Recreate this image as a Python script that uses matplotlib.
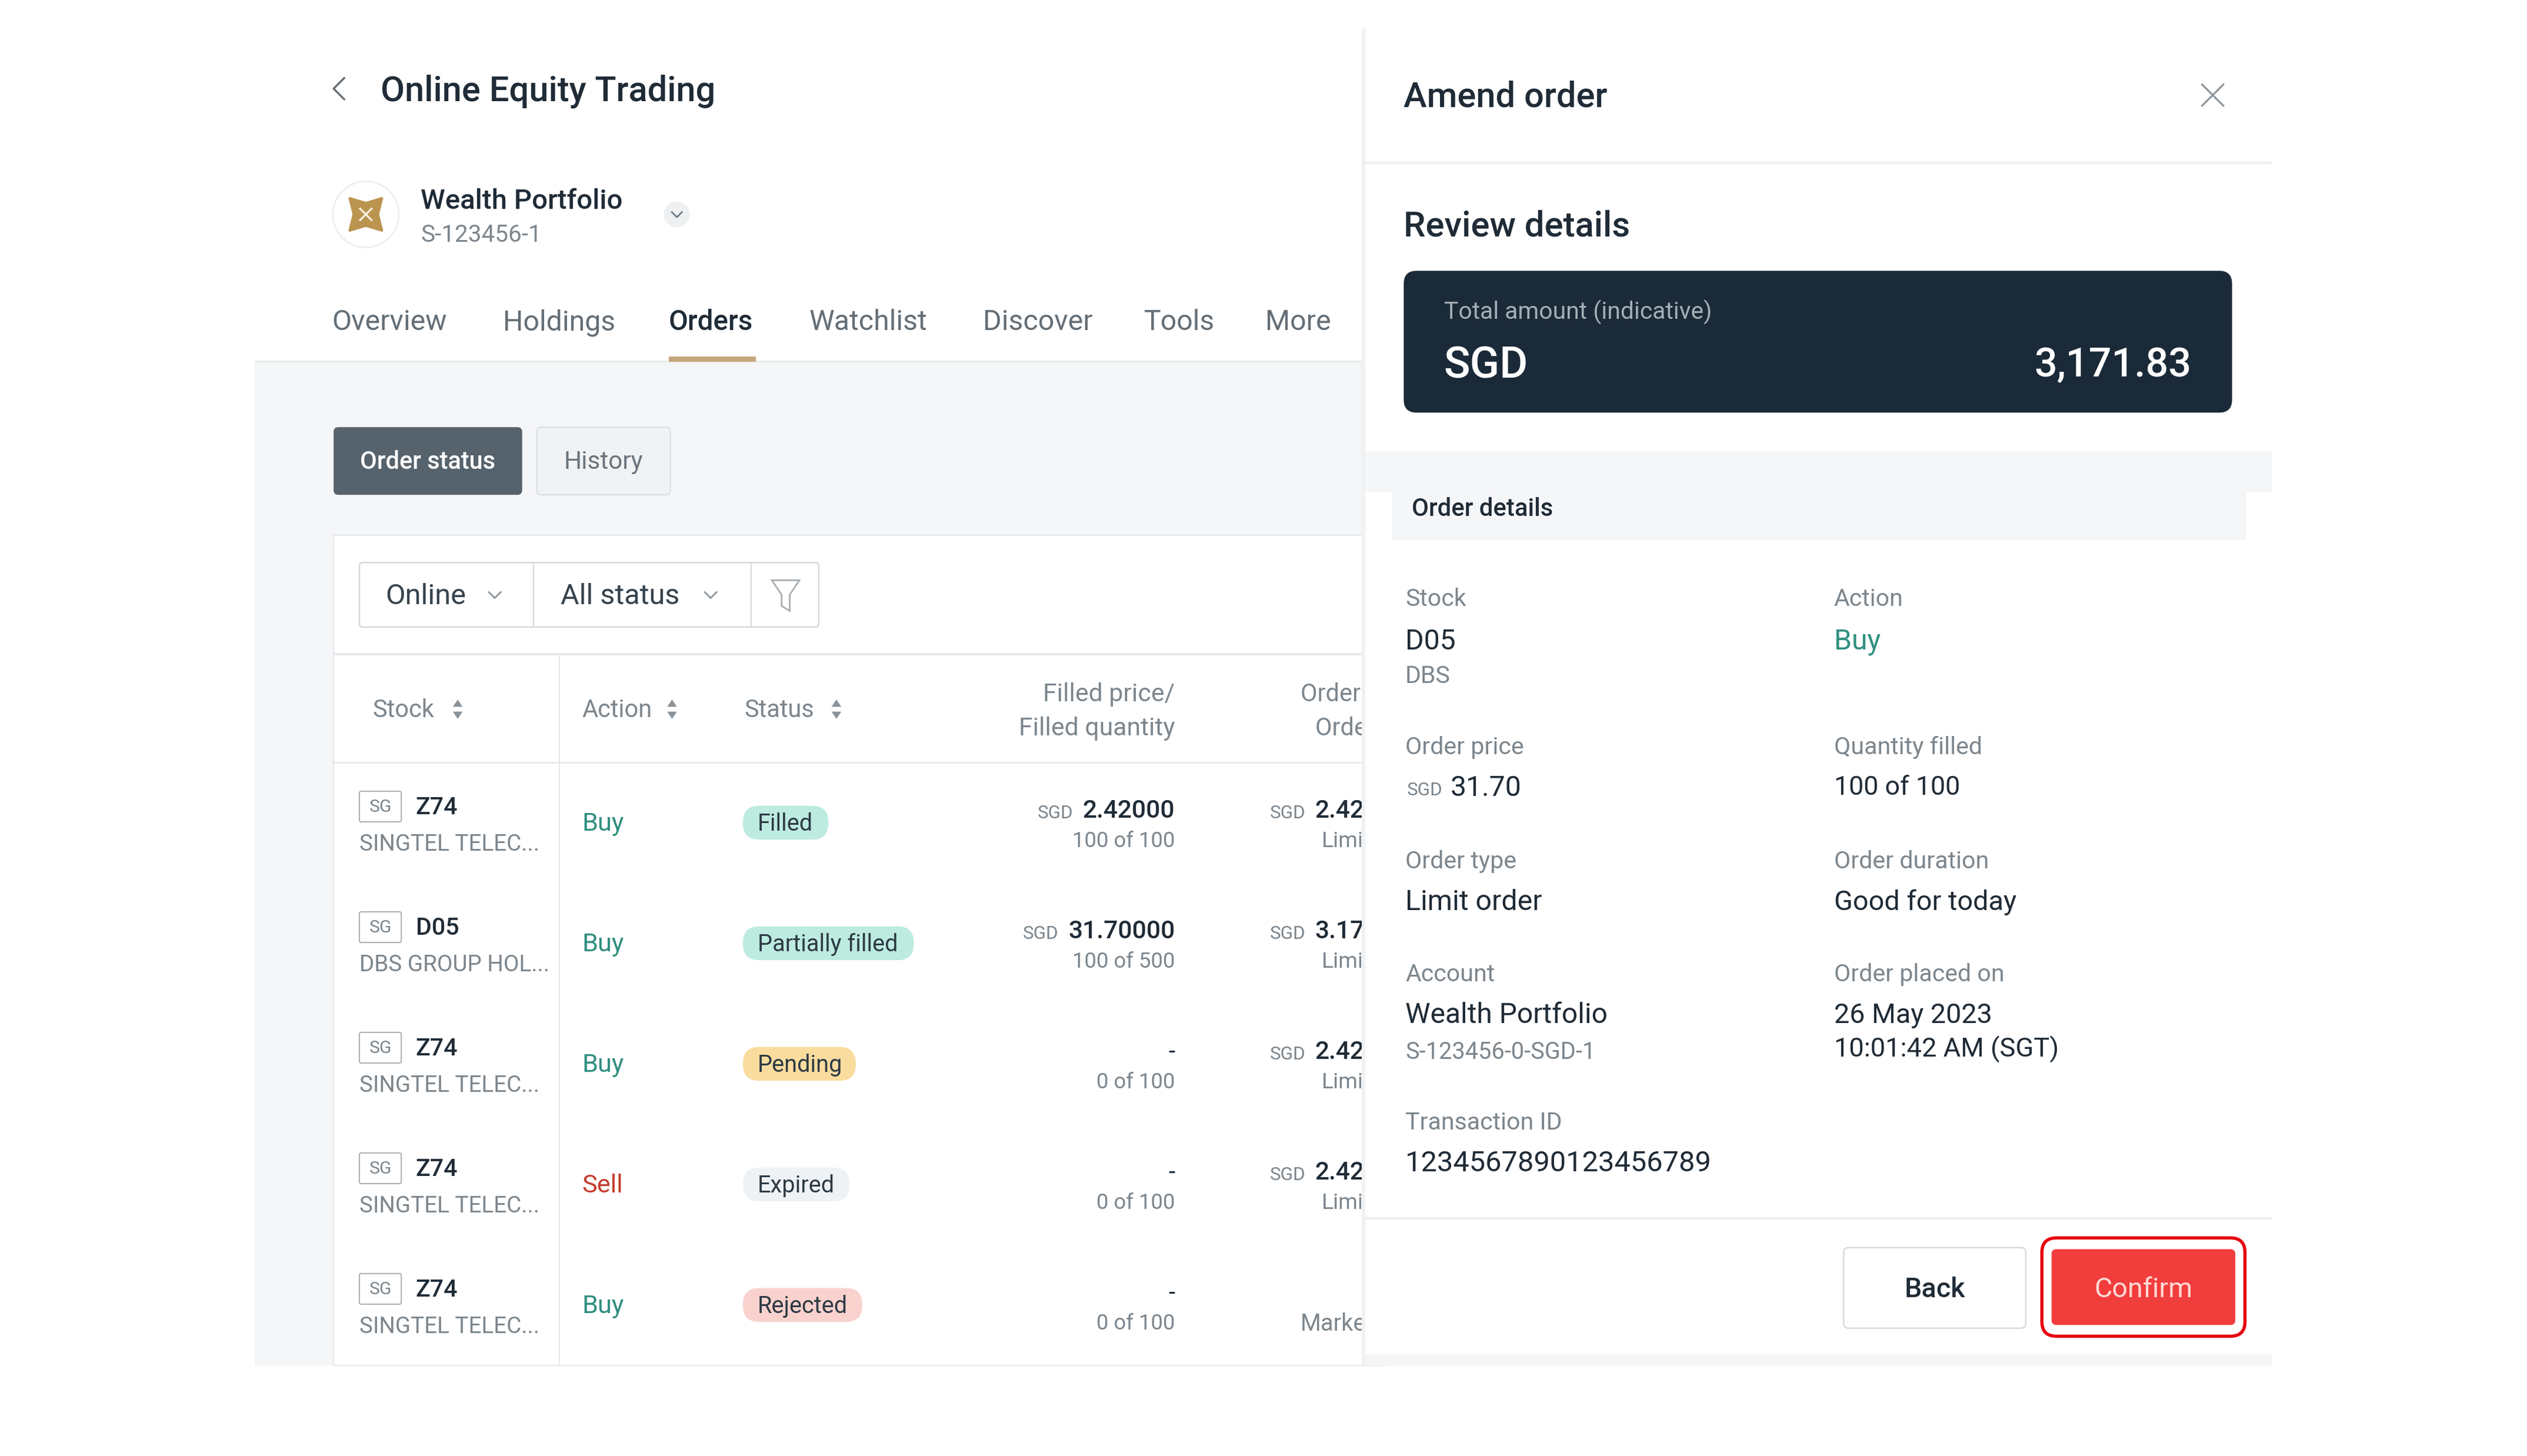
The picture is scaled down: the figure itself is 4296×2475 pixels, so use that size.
from matplotlib import pyplot as plt
from matplotlib.patches import FancyBboxPatch, Rectangle, Circle, Polygon

plt.rcParams['font.family'] = ['Roboto', 'DejaVu Sans']

# layout units: the picture is 1568 wide, 1 unit = 2.74 px
W, H = 1568, 903.3
PT = 1.973

DARK = '#1f2b36'
GREY = '#7d868d'
GREEN = '#2f8f7f'
RED = '#c43c2e'

## DATA ##
tabs = ['Overview', 'Holdings', 'Orders', 'Watchlist', 'Discover', 'Tools', 'More']
tab_x = [206, 312, 415, 502, 610, 710, 785]

stock_codes = ['Z74', 'D05', 'Z74', 'Z74', 'Z74']
stock_names = ['SINGTEL TELEC...', 'DBS GROUP HOL...', 'SINGTEL TELEC...', 'SINGTEL TELEC...', 'SINGTEL TELEC...']
actions = ['Buy', 'Buy', 'Buy', 'Sell', 'Buy']
statuses = ['Filled', 'Partially filled', 'Pending', 'Expired', 'Rejected']
filled_prices = ['2.42000', '31.70000', '-', '-', '-']
filled_qty = ['100 of 100', '100 of 500', '0 of 100', '0 of 100', '0 of 100']
order_prices = ['2.42000', '3.17000', '2.42000', '2.42000', '']
order_types = ['Limit', 'Limit', 'Limit', 'Limit', 'Market']

pill_colors = {'Filled': '#bdebe0', 'Partially filled': '#bdebe0', 'Pending': '#fbdc9f',
               'Expired': '#eff2f5', 'Rejected': '#f9d2ce'}
pill_widths = {'Filled': 53, 'Partially filled': 106, 'Pending': 70, 'Expired': 66, 'Rejected': 74}

detail_left = [('Stock', 371), ('Order price', 463), ('Order type', 534), ('Account', 604), ('Transaction ID', 696)]
detail_right = [('Action', 371), ('Quantity filled', 463), ('Order duration', 534), ('Order placed on', 604)]

fig = plt.figure(figsize=(42.96, 24.75), dpi=100)
ax = fig.add_axes([0, 0, 1, 1])
ax.set_xlim(0, W)
ax.set_ylim(H, 0)
ax.axis('off')
renderer = fig.canvas.get_renderer()


def txt(x, y, s, size=16, color=DARK, ha='left', weight='normal', z=3):
    return ax.text(x, y - 0.8, s, fontsize=size * PT, color=color, ha=ha, va='center_baseline',
                   fontweight=weight, zorder=z)


def box(x0, y0, x1, y1, fc, ec='none', lw=1, r=0, z=2):
    if r == 0:
        ax.add_patch(Rectangle((x0, y0), x1 - x0, y1 - y0, fc=fc, ec=ec, lw=lw * PT, zorder=z))
    else:
        ax.add_patch(FancyBboxPatch((x0 + r, y0 + r), x1 - x0 - 2 * r, y1 - y0 - 2 * r,
                                    boxstyle=f'round,pad={r},rounding_size={r}',
                                    fc=fc, ec=ec, lw=lw * PT, zorder=z))


def line(xs, ys, color='#e8eaec', lw=1, z=2):
    ax.plot(xs, ys, color=color, lw=lw * PT, zorder=z, solid_capstyle='butt')


def chevron(x, y, size=4, color='#8b939a', lw=1):
    line([x - size, x, x + size], [y - size / 2, y + size / 2, y - size / 2], color, lw, z=4)


def sort_arrows(x, y):
    ax.add_patch(Polygon([[x - 3, y - 1.5], [x + 3, y - 1.5], [x, y - 6]], fc='#8b939a', ec='none', zorder=4))
    ax.add_patch(Polygon([[x - 3, y + 1.5], [x + 3, y + 1.5], [x, y + 6]], fc='#8b939a', ec='none', zorder=4))


# left page
box(158, 224, 846, 847, '#f5f6f8', z=1)
line([158, 846], [224, 224], '#e9ebed', 1.2)
line([214, 207, 214], [48, 55, 62], '#5f6a72', 1.2)
txt(236, 55, 'Online Equity Trading', 21.7, weight='medium')

ax.add_patch(Circle((227, 133), 20.5, fc='white', ec='#eceef0', lw=1 * PT, zorder=2))
ax.add_patch(Polygon([[217, 123], [227, 126], [237, 123], [234.5, 133], [237, 143], [227, 140], [217, 143], [219.5, 133]],
                     fc='#bb9450', ec='#bb9450', lw=1.5 * PT, joinstyle='round', zorder=3))
line([223, 231], [129, 137], '#f6efe0', 1.2, z=4)
line([223, 231], [137, 129], '#f6efe0', 1.2, z=4)
txt(261, 124, 'Wealth Portfolio', 17.3, weight='medium')
txt(261, 145, 'S-123456-1', 14.8, GREY)
ax.add_patch(Circle((420, 133), 8, fc='#eef0f2', ec='none', zorder=2))
chevron(420, 133, 3.5, '#6f7a82')

for name, x in zip(tabs, tab_x):
    if name == 'Orders':
        txt(x, 199, name, 17.4, DARK, weight='medium')
    else:
        txt(x, 199, name, 17.6, '#646e76')
box(415, 221, 469, 224.5, '#c4a77d', z=3)

box(207, 265, 324, 307, '#56636d', r=3)
txt(265.5, 286, 'Order status', 15.2, 'white', ha='center', weight='medium')
box(333, 265, 416, 307, '#f0f2f4', '#dcdfe2', 0.8, r=3)
txt(374.5, 286, 'History', 15.4, '#6a747c', ha='center')

# table card
box(207, 332, 860, 847, 'white', '#e6e8eb', 0.8)
box(223, 349, 508, 389, 'white', '#d5d8db', 0.9, r=2, z=2)
line([331, 331], [349, 389], '#d9dcdf', 0.9)
line([466, 466], [349, 389], '#d9dcdf', 0.9)
txt(239, 369, 'Online', 17.8, '#36424c')
chevron(307, 369)
txt(348, 369, 'All status', 17.7, '#36424c')
chevron(441, 369)
ax.add_patch(Polygon([[479, 360], [496, 360], [490, 369], [490, 379], [485, 376], [485, 369]],
                     fc='none', ec='#a6adb3', lw=1 * PT, zorder=3))

line([207, 860], [406, 406], '#e6e8eb', 1.5)
line([207, 860], [473, 473], '#e6e8eb', 1)
txt(231, 440, 'Stock', 15.2, GREY)
sort_arrows(284, 440)
txt(361, 440, 'Action', 15.2, GREY)
sort_arrows(417, 440)
txt(462, 440, 'Status', 15.2, GREY)
sort_arrows(519, 440)
txt(729, 430, 'Filled price/', 15.6, GREY, ha='right')
txt(729, 451, 'Filled quantity', 15.6, GREY, ha='right')
txt(807, 430, 'Order price/', 15.2, GREY)
txt(816, 451, 'Order type', 15.2, GREY)

inv = ax.transData.inverted()
for i in range(len(actions)):
    top = 473 + 74.8 * i
    c = top + 37.4
    if i % 2 == 1:
        box(207.5, top, 860, top + 74.8, '#f9fafa', z=1.5)
    box(223, c - 19.5, 249, c - 0.5, 'white', '#a6adb3', 0.7, r=1, z=2)
    txt(236, c - 10, 'SG', 11, GREY, ha='center')
    txt(258, c - 10, stock_codes[i], 15, weight='medium')
    txt(223, c + 13, stock_names[i], 14.1, GREY)
    txt(361, c, actions[i], 15.8, RED if actions[i] == 'Sell' else GREEN)
    box(461, c - 10.5, 461 + pill_widths[statuses[i]], c + 10.5, pill_colors[statuses[i]], r=10)
    txt(470, c, statuses[i], 14.5, '#2d3a44')
    if filled_prices[i] == '-':
        txt(729, c - 8, '-', 15, DARK, ha='right')
    else:
        price = txt(729, c - 8, filled_prices[i], 15.5, ha='right', weight='medium')
        price_left = inv.transform(price.get_window_extent(renderer))[0][0]
        txt(price_left - 6, c - 6, 'SGD', 11.5, GREY, ha='right')
    txt(729, c + 11, filled_qty[i], 13.3, GREY, ha='right')
    if order_prices[i]:
        txt(788, c - 6, 'SGD', 11.5, GREY)
        txt(816, c - 8, order_prices[i], 15.5, weight='medium')
        txt(820, c + 11, order_types[i], 13.6, GREY)
    else:
        txt(807, c + 11, order_types[i], 14.6, GREY)
line([347, 347], [406, 847], '#e6e8eb', 0.8, z=2.5)

# right panel, covers the cut off table column
box(845, 18, 847, 847, '#f0f1f3', z=5)
box(847, 18, 1410, 847, 'white', z=5)
Z = 6
txt(871, 59, 'Amend order', 21.7, weight='medium', z=Z)
line([1366, 1380], [52, 66], '#8f979d', 1.2, z=Z)
line([1366, 1380], [66, 52], '#8f979d', 1.2, z=Z)
line([847, 1410], [101, 101], '#eff0f2', 1.6, z=Z)
txt(871, 139, 'Review details', 21.8, weight='medium', z=Z)

box(871, 168, 1385, 256, '#1b2a38', r=8, z=Z)
txt(896, 193, 'Total amount (indicative)', 14.9, '#a5aeb6', z=Z + 1)
txt(896, 225, 'SGD', 27, 'white', weight='medium', z=Z + 1)
txt(1360, 225, '3,171.83', 25, 'white', ha='right', weight='medium', z=Z + 1)

box(847, 280, 1410, 305, '#f5f6f8', z=Z)
box(864, 305, 1394, 335, '#f5f6f8', z=Z)
txt(876, 315, 'Order details', 15.3, weight='medium', z=Z + 1)

for name, y in detail_left:
    txt(872, y, name, 15, GREY, z=Z)
for name, y in detail_right:
    txt(1138, y, name, 15, GREY, z=Z)

txt(872, 397, 'D05', 17.5, z=Z)
txt(872, 419, 'DBS', 15, GREY, z=Z)
txt(1138, 397, 'Buy', 17.5, GREEN, z=Z)
txt(873, 490, 'SGD', 11.5, GREY, z=Z)
txt(900, 488, '31.70', 17.5, z=Z)
txt(1138, 488, '100 of 100', 16.4, z=Z)
txt(872, 559, 'Limit order', 17.6, z=Z)
txt(1138, 559, 'Good for today', 17.1, z=Z)
txt(872, 629, 'Wealth Portfolio', 17.5, z=Z)
txt(872, 652, 'S-123456-0-SGD-1', 14.5, GREY, z=Z)
txt(1138, 629, '26 May 2023', 17, z=Z)
txt(1138, 650, '10:01:42 AM (SGT)', 16.5, z=Z)
txt(872, 721, '1234567890123456789', 17.8, z=Z)

line([847, 1410], [756, 756], '#eceef0', 1.6, z=Z)
box(847, 840, 1410, 847, '#f5f6f8', z=Z)
box(1144, 774, 1257, 824, 'white', '#d8dadd', 0.9, r=3, z=Z)
txt(1200.5, 799, 'Back', 17, ha='center', weight='medium', z=Z + 1)
box(1273, 775, 1387, 822, '#f23d3d', r=3, z=Z)
txt(1330, 799, 'Confirm', 17, '#ffd9d4', ha='center', z=Z + 1)
box(1267, 768, 1393, 829, 'none', '#e6000f', 2.0, r=9, z=Z + 1)

fig.savefig('out.png', dpi=100, facecolor='white')
